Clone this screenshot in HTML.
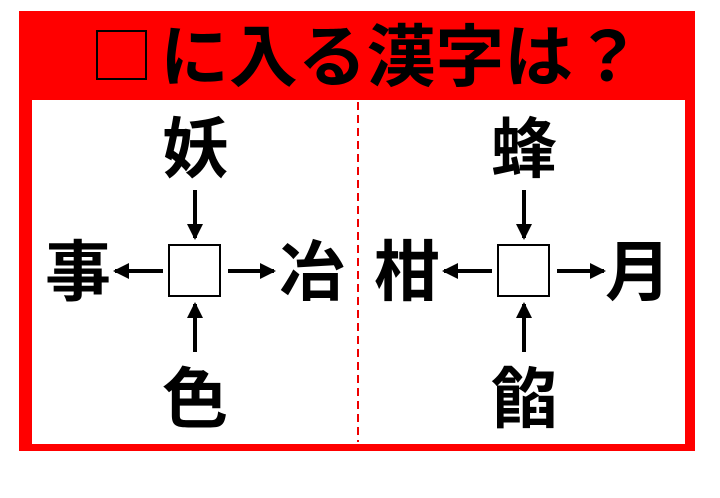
<!DOCTYPE html>
<html><head><meta charset="utf-8"><style>
body{margin:0;background:#fff;width:720px;height:493px;overflow:hidden}
svg text{font-family:"Liberation Sans","Noto Sans CJK JP",sans-serif;font-weight:bold}
</style></head><body>
<svg width="720" height="493" xmlns="http://www.w3.org/2000/svg">
<rect x="19" y="11" width="676" height="440" fill="#f00"/>
<rect x="32" y="100" width="653" height="344" fill="#fff"/>
<line x1="358" y1="102" x2="358" y2="442" stroke="#e00" stroke-width="2" stroke-dasharray="8,5"/>
<rect x="97" y="31" width="49" height="48" fill="none" stroke="#000" stroke-width="2"/>
<text x="160" y="81" font-size="68" fill="#000" textLength="482" lengthAdjust="spacingAndGlyphs">に入る漢字は？</text>
<defs><marker id="b" markerUnits="userSpaceOnUse" markerWidth="16" markerHeight="16" refX="14" refY="8" orient="auto"><path d="M0,0 L16,8 L0,16 z" fill="#000"/></marker></defs>
<g font-size="66" text-anchor="middle" fill="#000">
<text x="195" y="172">妖</text><text x="78" y="295">事</text><text x="312" y="295">冶</text><text x="195" y="422">色</text>
<text x="524" y="172">蜂</text><text x="407" y="295">柑</text><text x="638" y="295">月</text><text x="524" y="422">餡</text>
</g>
<g stroke="#000" stroke-width="4" marker-end="url(#b)">
<line x1="195" y1="190" x2="195" y2="238"/><line x1="195" y1="352" x2="195" y2="304"/>
<line x1="163" y1="271" x2="115" y2="271"/><line x1="228" y1="271" x2="274" y2="271"/>
<line x1="524" y1="190" x2="524" y2="238"/><line x1="524" y1="352" x2="524" y2="304"/>
<line x1="492" y1="271" x2="444" y2="271"/><line x1="557" y1="271" x2="604" y2="271"/>
</g>
<rect x="169" y="245" width="51" height="51" fill="#fff" stroke="#000" stroke-width="2"/>
<rect x="498" y="245" width="51" height="51" fill="#fff" stroke="#000" stroke-width="2"/>
</svg>
</body></html>
